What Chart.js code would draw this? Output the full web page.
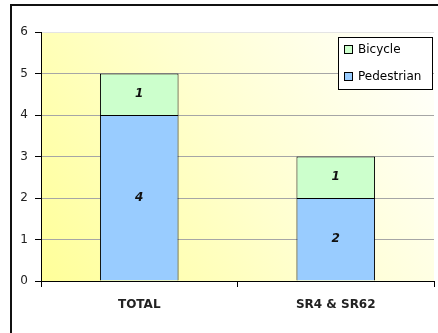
<!DOCTYPE html>
<html>
<head>
<meta charset="utf-8">
<script src="https://cdn.jsdelivr.net/npm/chart.js@4/dist/chart.umd.min.js"></script>
<style>
	html, body { margin: 0; padding: 0; background: #fff; }
	#wrap { width: 438px; height: 333px; }
</style>
</head>
<body>
<div id="wrap"><canvas id="crashChart" width="438" height="333"></canvas></div>
<script>
const categories = ['TOTAL', 'SR4 & SR62'];
const pedestrian = [4, 2];
const bicycle = [1, 1];
const yMax = 6;
const legendNames = ['Bicycle', 'Pedestrian'];

const FONT = '"DejaVu Sans", Verdana, sans-serif';

// 外框 + 绘图区渐变底色
const backdrop = {
	id: 'backdrop',
	beforeDraw(chart) {
		const { ctx, chartArea: a } = chart;
		ctx.save();
		const g = ctx.createLinearGradient(a.left, a.bottom, a.right, a.top);
		g.addColorStop(0, '#ffff99');
		g.addColorStop(0.5, '#ffffcf');
		g.addColorStop(1, '#ffffff');
		ctx.fillStyle = g;
		ctx.fillRect(a.left, a.top, a.right - a.left, a.bottom - a.top);
		ctx.strokeStyle = '#111';
		ctx.lineWidth = 2;
		ctx.beginPath();
		ctx.moveTo(11, 340);
		ctx.lineTo(11, 5);
		ctx.lineTo(440, 5);
		ctx.stroke();
		ctx.restore();
	},
};

// 柱内数值
const segmentLabels = {
	id: 'segmentLabels',
	afterDatasetsDraw(chart) {
		const { ctx } = chart;
		ctx.save();
		ctx.font = 'italic bold 12px ' + FONT;
		ctx.fillStyle = '#111';
		ctx.textAlign = 'center';
		ctx.textBaseline = 'middle';
		chart.data.datasets.forEach((ds, i) => {
			chart.getDatasetMeta(i).data.forEach((bar, j) => {
				ctx.fillText(String(ds.data[j]), bar.x, (bar.y + bar.base) / 2);
			});
		});
		ctx.restore();
	},
};

// 图例方框
const boxLegend = {
	id: 'boxLegend',
	afterDraw(chart) {
		const { ctx } = chart;
		const x = 338, y = 37, w = 94, h = 52;
		ctx.save();
		ctx.fillStyle = '#fff';
		ctx.fillRect(x, y, w, h);
		ctx.strokeStyle = '#000';
		ctx.lineWidth = 1;
		ctx.strokeRect(x + 0.5, y + 0.5, w, h);
		ctx.font = '12px ' + FONT;
		ctx.textBaseline = 'middle';
		legendNames.forEach((name, i) => {
			const ds = chart.data.datasets.find((d) => d.label === name);
			const cy = y + 13 + i * 27;
			ctx.fillStyle = ds.backgroundColor;
			ctx.fillRect(344.5, cy - 4.5, 8, 8);
			ctx.strokeRect(344.5, cy - 4.5, 8, 8);
			ctx.fillStyle = '#000';
			ctx.fillText(name, 358, cy);
		});
		ctx.restore();
	},
};

new Chart(document.getElementById('crashChart'), {
	type: 'bar',
	data: {
		labels: categories,
		datasets: [
			{
				label: 'Pedestrian',
				data: pedestrian,
				backgroundColor: '#99ccff',
				borderColor: '#000',
				borderWidth: 1,
				barPercentage: 0.4,
				categoryPercentage: 1,
			},
			{
				label: 'Bicycle',
				data: bicycle,
				backgroundColor: '#ccffcc',
				borderColor: '#000',
				borderWidth: 1,
				barPercentage: 0.4,
				categoryPercentage: 1,
			},
		],
	},
	plugins: [backdrop, segmentLabels, boxLegend],
	options: {
		responsive: false,
		animation: false,
		layout: { padding: { left: 11, top: 32, right: 4, bottom: 12 } },
		plugins: {
			legend: { display: false },
			tooltip: { enabled: false },
		},
		scales: {
			x: {
				stacked: true,
				grid: { offset: true, drawOnChartArea: false, tickLength: 6, tickColor: '#000' },
				border: { color: '#000' },
				ticks: { color: '#222', padding: 11, font: { family: FONT, size: 12, weight: 'bold' } },
				afterFit: (scale) => { scale.height = 40; },
			},
			y: {
				stacked: true,
				min: 0,
				max: yMax,
				ticks: { stepSize: 1, color: '#222', padding: 7, font: { family: FONT, size: 12 } },
				grid: {
					color: (c) => (c.tick && c.tick.value === yMax ? '#e4e4e4' : '#a6a6a6'),
					tickLength: 6,
					tickColor: '#000',
				},
				border: { color: '#000' },
				afterFit: (scale) => { scale.width = 30; },
			},
		},
	},
});
</script>
</body>
</html>
